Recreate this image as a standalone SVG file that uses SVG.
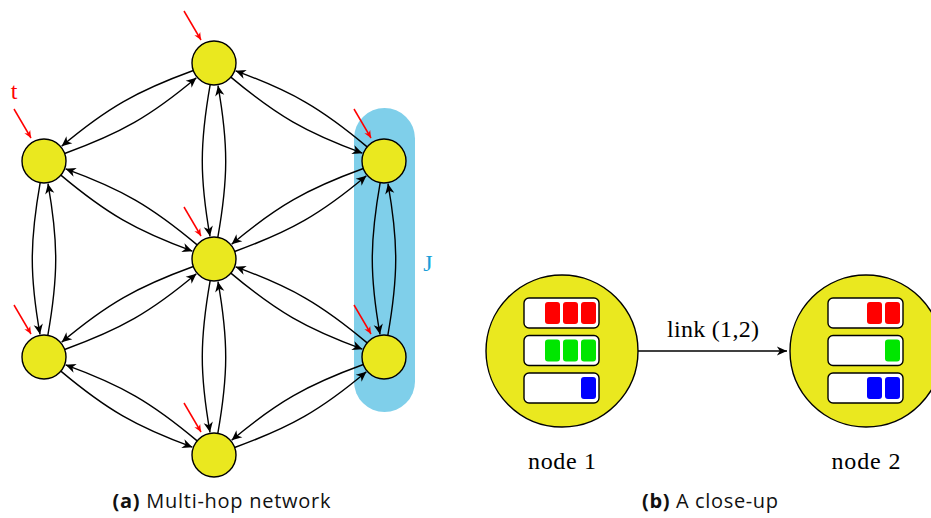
<svg xmlns="http://www.w3.org/2000/svg" width="931" height="518" viewBox="0 0 931 518">
<style>
.node{fill:#eae81f;stroke:#000;stroke-width:1.4}
.edge{fill:none;stroke:#000;stroke-width:1.4;marker-end:url(#ah)}
.red{fill:none;stroke:#ff0000;stroke-width:1.5;marker-end:url(#rh)}
.serif{font-family:"Liberation Serif","DejaVu Serif",serif;font-size:24px}
.cap{font-family:"Open Sans","Liberation Sans",sans-serif;font-size:20px;fill:#111}
.q{fill:#fff;stroke:#000;stroke-width:1.4}
.pr{fill:#ff0000}.pg{fill:#00e600}.pb{fill:#0000ff}
</style>
<defs>
<marker id="ah" markerUnits="userSpaceOnUse" viewBox="0 0 10 10" refX="10" refY="5" markerWidth="11" markerHeight="11" orient="auto">
<path d="M10,5 L0.8,0.8 L3.5,5 L0.8,9.2 Z" fill="#000"/>
</marker>
<marker id="rh" markerUnits="userSpaceOnUse" viewBox="0 0 10 10" refX="10" refY="5" markerWidth="8" markerHeight="8" orient="auto">
<path d="M10,5 L0.8,0.8 L3.5,5 L0.8,9.2 Z" fill="#ff0000"/>
</marker>
</defs>

<rect id="J-region" x="354" y="108" width="61" height="304" rx="30.5" fill="#7fcfea"/>
<text x="428" y="271" class="serif" fill="#1a9fd9" text-anchor="middle">J</text>

<g id="connectors">
<path class="edge" d="M230.85,77.14 C276.81,115.71 306,132.61 362.39,153.13"/>
<path class="edge" d="M60.85,175.14 C106.81,213.71 136,230.61 192.39,251.13"/>
<path class="edge" d="M230.85,273.14 C276.81,311.71 306,328.61 362.39,349.13"/>
<path class="edge" d="M60.85,371.14 C106.81,409.71 136,426.61 192.39,447.13"/>
<path class="edge" d="M210.18,84.67 C199.76,143.75 199.59,177.26 210.01,236.35"/>
<path class="edge" d="M40.18,182.67 C29.76,241.75 29.59,275.26 40.01,334.35"/>
<path class="edge" d="M380.18,182.67 C369.76,241.75 369.59,275.26 380.01,334.35"/>
<path class="edge" d="M210.18,280.67 C199.76,339.75 199.59,373.26 210.01,432.35"/>
<path class="edge" d="M193.33,70.52 C136.94,91.04 107.58,107.65 61.62,146.22"/>
<path class="edge" d="M363.33,168.52 C306.94,189.04 277.58,205.65 231.62,244.22"/>
<path class="edge" d="M193.33,266.52 C136.94,287.04 107.58,303.65 61.62,342.22"/>
<path class="edge" d="M363.33,364.52 C306.94,385.04 277.58,401.65 231.62,440.22"/>
<path class="edge" d="M367.15,146.86 C321.19,108.29 292,91.39 235.61,70.87"/>
<path class="edge" d="M197.15,244.86 C151.19,206.29 122,189.39 65.61,168.87"/>
<path class="edge" d="M367.15,342.86 C321.19,304.29 292,287.39 235.61,266.87"/>
<path class="edge" d="M197.15,440.86 C151.19,402.29 122,385.39 65.61,364.87"/>
<path class="edge" d="M217.82,237.33 C228.24,178.25 228.41,144.74 217.99,85.65"/>
<path class="edge" d="M47.82,335.33 C58.24,276.25 58.41,242.74 47.99,183.65"/>
<path class="edge" d="M387.82,335.33 C398.24,276.25 398.41,242.74 387.99,183.65"/>
<path class="edge" d="M217.82,433.33 C228.24,374.25 228.41,340.74 217.99,281.65"/>
<path class="edge" d="M64.67,153.48 C121.06,132.96 150.42,116.35 196.38,77.78"/>
<path class="edge" d="M234.67,251.48 C291.06,230.96 320.42,214.35 366.38,175.78"/>
<path class="edge" d="M64.67,349.48 C121.06,328.96 150.42,312.35 196.38,273.78"/>
<path class="edge" d="M234.67,447.48 C291.06,426.96 320.42,410.35 366.38,371.78"/>
<path class="edge" d="M638,351 L787,351"/>
</g>

<g id="n-top"><circle class="node" cx="214" cy="63" r="22"/><path class="red" d="M184,11 L201,40"/></g>
<g id="n-left-up"><circle class="node" cx="44" cy="161" r="22"/><path class="red" d="M14,109 L31,138"/></g>
<g id="n-right-up"><circle class="node" cx="384" cy="161" r="22"/><path class="red" d="M354,109 L371,138"/></g>
<g id="n-center"><circle class="node" cx="214" cy="259" r="22"/><path class="red" d="M184,207 L201,236"/></g>
<g id="n-left-low"><circle class="node" cx="44" cy="357" r="22"/><path class="red" d="M14,305 L31,334"/></g>
<g id="n-right-low"><circle class="node" cx="384" cy="357" r="22"/><path class="red" d="M354,305 L371,334"/></g>
<g id="n-bottom"><circle class="node" cx="214" cy="455" r="22"/><path class="red" d="M184,403 L201,432"/></g>

<text x="14" y="99" class="serif" fill="#ff0000" text-anchor="middle">t</text>

<g id="node1">
<circle class="node" cx="562" cy="351" r="76"/>
<rect class="q" x="524" y="298" width="75" height="30" rx="5"/>
<rect class="q" x="524" y="335.5" width="75" height="30" rx="5"/>
<rect class="q" x="524" y="373" width="75" height="30" rx="5"/>
<rect class="pr" x="545" y="302" width="15" height="22" rx="3"/>
<rect class="pr" x="563" y="302" width="15" height="22" rx="3"/>
<rect class="pr" x="581" y="302" width="15" height="22" rx="3"/>
<rect class="pg" x="545" y="339.5" width="15" height="22" rx="3"/>
<rect class="pg" x="563" y="339.5" width="15" height="22" rx="3"/>
<rect class="pg" x="581" y="339.5" width="15" height="22" rx="3"/>
<rect class="pb" x="581" y="377" width="15" height="22" rx="3"/>
</g>

<g id="node2">
<circle class="node" cx="866" cy="351" r="76"/>
<rect class="q" x="828" y="298" width="75" height="30" rx="5"/>
<rect class="q" x="828" y="335.5" width="75" height="30" rx="5"/>
<rect class="q" x="828" y="373" width="75" height="30" rx="5"/>
<rect class="pr" x="867" y="302" width="15" height="22" rx="3"/>
<rect class="pr" x="885" y="302" width="15" height="22" rx="3"/>
<rect class="pg" x="885" y="339.5" width="15" height="22" rx="3"/>
<rect class="pb" x="867" y="377" width="15" height="22" rx="3"/>
<rect class="pb" x="885" y="377" width="15" height="22" rx="3"/>
</g>

<text x="713" y="337" class="serif" text-anchor="middle" textLength="92" lengthAdjust="spacing">link (1,2)</text>
<text x="562" y="469" class="serif" text-anchor="middle" textLength="68" lengthAdjust="spacing">node 1</text>
<text x="866" y="469" class="serif" text-anchor="middle" textLength="69" lengthAdjust="spacing">node 2</text>

<text x="221.5" y="508" class="cap" text-anchor="middle" textLength="218" lengthAdjust="spacing"><tspan font-weight="bold">(a)</tspan> Multi-hop network</text>
<text x="710" y="508" class="cap" text-anchor="middle" textLength="136" lengthAdjust="spacing"><tspan font-weight="bold">(b)</tspan> A close-up</text>
</svg>
